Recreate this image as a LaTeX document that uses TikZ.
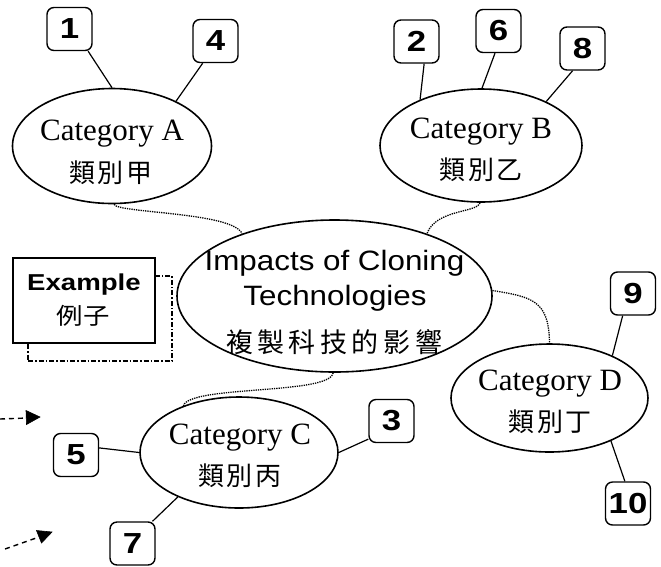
\documentclass[tikz,border=0pt]{standalone}
\usepackage{fontspec}
\setmainfont{Liberation Serif}
\newfontfamily\hubsans[FakeStretch=1.12]{Liberation Sans}
\newfontfamily\tagsans[FakeStretch=1.2]{Liberation Sans}
\newfontfamily\exsans[FakeStretch=1.2]{Liberation Sans}
\newfontfamily\cjk{Noto Sans CJK TC}
\newfontfamily\cjkwide[FakeStretch=1.15]{Noto Sans CJK TC}
\usetikzlibrary{shapes.geometric}
\newcommand\cg{\kern2.5pt}
\newcommand\hg{\kern4.5pt}
\begin{document}
\begin{tikzpicture}[x=1pt,y=-1pt,
  cat/.style={ellipse,draw,line width=1.6pt,inner sep=0pt,fill=white},
  tag/.style={draw,line width=1.4pt,rounded corners=7pt,minimum width=45pt,
    minimum height=43pt,inner sep=0pt,fill=white,
    font=\tagsans\bfseries\fontsize{29pt}{29pt}\selectfont},
  catname/.style={anchor=base,inner sep=0pt,font=\fontsize{31pt}{31pt}\selectfont},
  catcjk/.style={anchor=base,inner sep=0pt,font=\cjk\fontsize{26pt}{26pt}\selectfont},
  hubtext/.style={anchor=base,inner sep=0pt,font=\hubsans\fontsize{28pt}{28pt}\selectfont},
  link/.style={line width=1.2pt},
  dotlink/.style={line width=1.3pt,densely dotted},
  hint/.style={line width=1.4pt,dash pattern=on 5pt off 4pt},
  hinthead/.style={fill=black,draw=black,line width=0.6pt,line join=miter},
  exframe/.style={draw,line width=1.3pt,fill=white,inner sep=0pt},
  exshadow/.style={draw,line width=1.2pt,inner sep=0pt,
    dash pattern=on 5pt off 2pt on 1.5pt off 2pt}]
\useasboundingbox (0,0) rectangle (661,566);

% central topic
\node[cat,minimum width=315pt,minimum height=152pt] (hub) at (334.5,296) {};

% categories
\node[cat,minimum width=199pt,minimum height=115pt] (catA) at (112,146) {};
\node[cat,minimum width=202pt,minimum height=113pt] (catB) at (481,145.5) {};
\node[cat,minimum width=198pt,minimum height=111pt] (catC) at (239,452.5) {};
\node[cat,minimum width=197pt,minimum height=108pt] (catD) at (549.5,398) {};

% dotted links from the centre to each category
\draw[dotlink] (catA.-88) .. controls (116,213) and (233,212) .. (hub.146);
\draw[dotlink] (catB.-91) .. controls (477,213) and (436,209) .. (hub.34);
\draw[dotlink] (hub.2) .. controls (532,297) and (549,300) .. (catD.90);
\draw[dotlink] (hub.-91) .. controls (330,395) and (190,385) .. (catC.140);

% example card with its shadow
\node[exshadow,minimum width=144pt,minimum height=85pt] (exshade) at (100,318.5) {};
\node[exframe,minimum width=142pt,minimum height=85pt] (ex) at (84,300.5) {};
\node[anchor=base,inner sep=0pt,font=\exsans\bfseries\fontsize{23pt}{23pt}\selectfont]
  (extitle) at (84,290) {Example};
\node[anchor=base,inner sep=0pt,font=\cjkwide\fontsize{23pt}{23pt}\selectfont]
  (excjk) at (83,324) {例子};

% texts
\node[hubtext] (hub1) at (334.5,270) {Impacts of Cloning};
\node[hubtext] (hub2) at (335,305) {Technologies};
\node[anchor=base,inner sep=0pt,font=\cjk\fontsize{27pt}{27pt}\selectfont]
  (hub3) at (334,352) {複\hg 製\hg 科\hg 技\hg 的\hg 影\hg 響};

\node[catname] (tA) at (112,140) {Category A};
\node[catcjk] (cA) at (111,182) {類\cg 別\cg 甲};
\node[catname] (tB) at (481,138) {Category B};
\node[catcjk] (cB) at (481,179) {類\cg 別\cg 乙};
\node[catname] (tC) at (240,444) {Category C};
\node[catcjk] (cC) at (240,485) {類\cg 別\cg 丙};
\node[catname] (tD) at (550,390) {Category D};
\node[catcjk] (cD) at (550,431) {類\cg 別\cg 丁};

% numbered tags
\node[tag] (n1) at (69.5,29) {1};
\node[tag] (n4) at (215.5,41) {4};
\node[tag] (n2) at (416.5,41.5) {2};
\node[tag] (n6) at (498.5,31) {6};
\node[tag] (n8) at (582.5,48.5) {8};
\node[tag] (n5) at (76,455) {5};
\node[tag] (n7) at (132.5,543.5) {7};
\node[tag] (n3) at (391.5,421) {3};
\node[tag] (n9) at (633,293.5) {9};
\node[tag] (n10) at (628,503.5) {10};

% tag links
\draw[link] (n1.-50) -- (catA.90);
\draw[link] (n4.-120) -- (catA.35);
\draw[link] (n2.-71) -- (catB.143);
\draw[link] (n6.-99) -- (catB.89);
\draw[link] (n8.-114) -- (catB.34);
\draw[link] (n5.17) -- (catC.180);
\draw[link] (n7.48) -- (catC.216);
\draw[link] (n3.-142) -- (catC.0);
\draw[link] (n9.-115) -- (catD.34);
\draw[link] (n10.98) -- (catD.-35);

% pointer arrows: dashed shaft and a solid triangular head
\coordinate (p1s) at (0,419);
\coordinate (p1m) at (27,418);
\coordinate (p1e) at (40,417);
\coordinate (p1a) at (26,410.5);
\coordinate (p1b) at (26.5,424.5);
\coordinate (p2s) at (5,549);
\coordinate (p2m) at (39,537);
\coordinate (p2e) at (52,532);
\coordinate (p2a) at (36.5,530.5);
\coordinate (p2b) at (41.5,543);
\draw[hint] (p1s) -- (p1m);
\draw[hinthead] (p1e) -- (p1a) -- (p1b) -- cycle;
\draw[hint] (p2s) -- (p2m);
\draw[hinthead] (p2e) -- (p2a) -- (p2b) -- cycle;
\end{tikzpicture}
\end{document}
